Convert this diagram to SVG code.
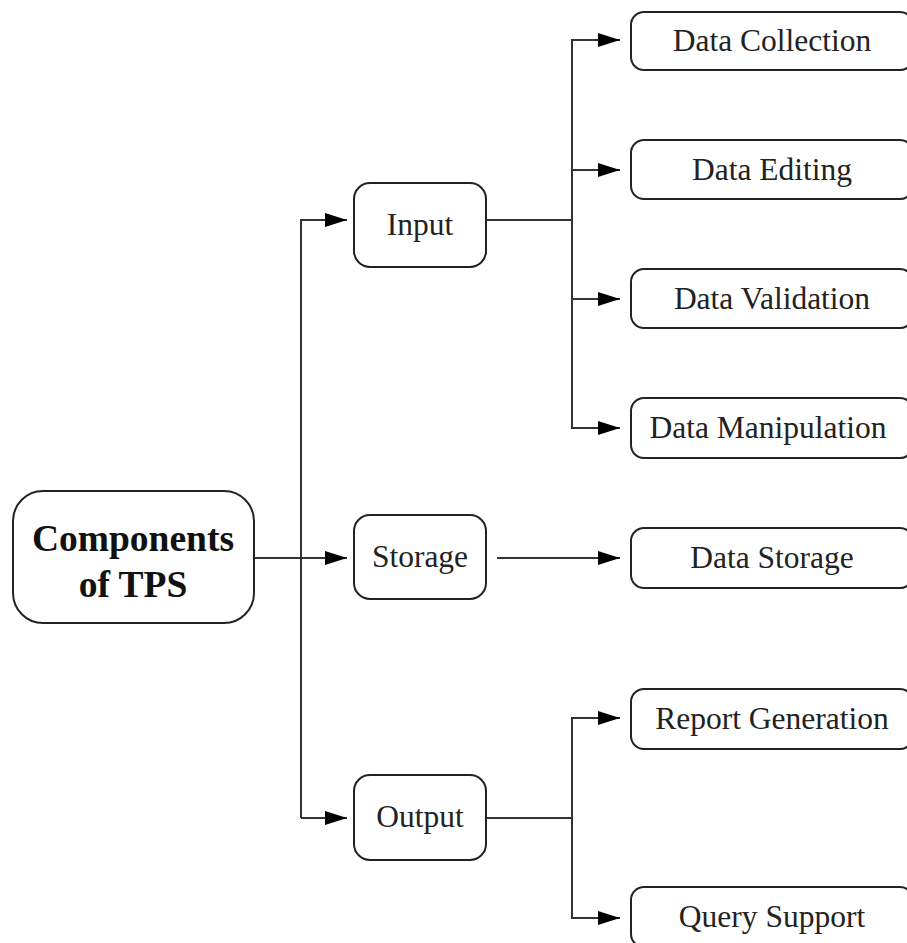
<svg xmlns="http://www.w3.org/2000/svg" width="907" height="943" viewBox="0 0 907 943">
<defs>
<marker id="arr" markerWidth="22" markerHeight="16" refX="22" refY="8" orient="auto" markerUnits="userSpaceOnUse">
<path d="M0,1 L22,8 L0,15 Z" fill="#000"/>
</marker>
</defs>
<style>
.box{fill:#fff;stroke:#222;stroke-width:2}
.t{font-family:"Liberation Serif","Times New Roman",serif;font-size:31.5px;fill:#222;text-anchor:middle;dominant-baseline:central}
.tb{font-family:"Liberation Serif","Times New Roman",serif;font-size:37.5px;font-weight:bold;fill:#111;text-anchor:middle}
.c{fill:none;stroke:#333;stroke-width:2}
</style>
<rect width="907" height="943" fill="#fff"/>
<g id="connectors">
<path class="c" d="M254,558 H347" marker-end="url(#arr)"/>
<path class="c" d="M301,818 V220 H347" marker-end="url(#arr)"/>
<path class="c" d="M301,818 H347" marker-end="url(#arr)"/>
<path class="c" d="M486,220 H572"/>
<path class="c" d="M572,428 V40 H620" marker-end="url(#arr)"/>
<path class="c" d="M572,170 H620" marker-end="url(#arr)"/>
<path class="c" d="M572,299 H620" marker-end="url(#arr)"/>
<path class="c" d="M572,299 V428 H620" marker-end="url(#arr)"/>
<path class="c" d="M497,558 H620" marker-end="url(#arr)"/>
<path class="c" d="M486,818 H572"/>
<path class="c" d="M572,818 V718 H620" marker-end="url(#arr)"/>
<path class="c" d="M572,818 V918 H620" marker-end="url(#arr)"/>
</g>
<g id="root">
<rect class="box" x="13" y="491" width="241" height="132" rx="30"/>
<text class="tb" x="133" y="551">Components</text>
<text class="tb" x="133" y="597">of TPS</text>
</g>
<g id="input">
<rect class="box" x="354" y="183" width="132" height="84" rx="16"/>
<text class="t" x="420" y="224">Input</text>
</g>
<g id="storage">
<rect class="box" x="354" y="515" width="132" height="84" rx="16"/>
<text class="t" x="420" y="556">Storage</text>
</g>
<g id="output">
<rect class="box" x="354" y="775" width="132" height="85" rx="16"/>
<text class="t" x="420" y="816">Output</text>
</g>
<g id="data-collection">
<rect class="box" x="631" y="12" width="282" height="58" rx="13"/>
<text class="t" x="772" y="40">Data Collection</text>
</g>
<g id="data-editing">
<rect class="box" x="631" y="140" width="282" height="59" rx="13"/>
<text class="t" x="772" y="169">Data Editing</text>
</g>
<g id="data-validation">
<rect class="box" x="631" y="269" width="282" height="59" rx="13"/>
<text class="t" x="772" y="298">Data Validation</text>
</g>
<g id="data-manipulation">
<rect class="box" x="631" y="398" width="282" height="60" rx="13"/>
<text class="t" x="768" y="427">Data Manipulation</text>
</g>
<g id="data-storage">
<rect class="box" x="631" y="528" width="282" height="60" rx="13"/>
<text class="t" x="772" y="557">Data Storage</text>
</g>
<g id="report-generation">
<rect class="box" x="631" y="689" width="282" height="60" rx="13"/>
<text class="t" x="772" y="718">Report Generation</text>
</g>
<g id="query-support">
<rect class="box" x="631" y="887" width="282" height="60" rx="13"/>
<text class="t" x="772" y="916">Query Support</text>
</g>
</svg>
